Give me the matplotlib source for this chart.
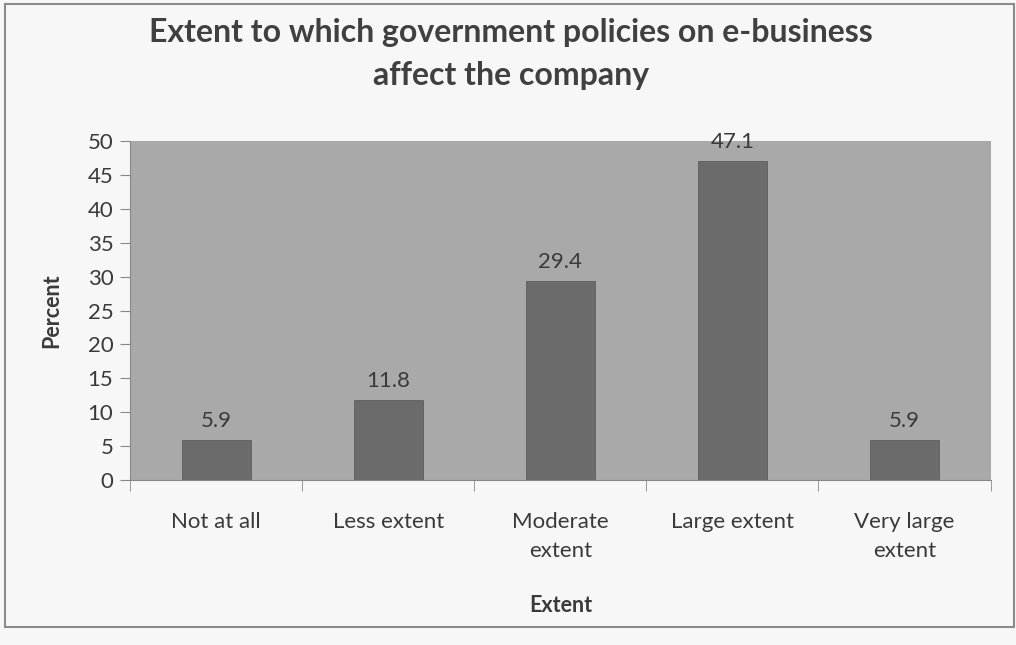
import matplotlib
matplotlib.use('Agg')
import matplotlib.pyplot as plt
import numpy as np
from matplotlib.patches import Rectangle

categories = ["Not at all", "Less extent", "Moderate\nextent", "Large extent", "Very large\nextent"]
percent = [5.9, 11.8, 29.4, 47.1, 5.9]
y_ticks = [0, 5, 10, 15, 20, 25, 30, 35, 40, 45, 50]

plt.rcParams['font.family'] = ['Lato', 'DejaVu Sans']
text_col = "#3a3a3a"

fig = plt.figure(figsize=(10.16, 6.45), dpi=100, facecolor="#f7f7f7")
ax = fig.add_axes([0.128, 0.256, 0.847, 0.525])
ax.set_facecolor("#a9a9a9")

x = np.arange(len(categories))
ax.bar(x, percent, width=0.4, color="#6b6b6b", edgecolor="#5e5e5e", linewidth=0.6, zorder=2)
for xi, v in zip(x, percent):
    ax.text(xi, v + 1.3, f"{v:.1f}", ha="center", va="bottom", fontsize=16, color=text_col)

ax.set_xlim(-0.5, len(categories) - 0.5)
ax.set_ylim(0, 50)
ax.set_yticks(y_ticks)
ax.set_xticks(x)
ax.set_xticklabels(categories, fontsize=16, color=text_col, linespacing=1.6)
ax.set_xticks(np.arange(-0.5, len(categories)), minor=True)
ax.tick_params(axis="x", which="major", length=0, pad=23)
ax.tick_params(axis="x", which="minor", length=8, color="#888888", direction="out")
ax.tick_params(axis="y", length=7, color="#888888", labelsize=16, labelcolor=text_col, pad=5)

for side in ("top", "right"):
    ax.spines[side].set_visible(False)
for side in ("left", "bottom"):
    ax.spines[side].set_color("#888888")

ax.set_ylabel("Percent", fontsize=15.5, fontweight="bold", color=text_col, labelpad=18)
ax.set_xlabel("Extent", fontsize=15.5, fontweight="bold", color=text_col, labelpad=24)

fig.text(0.503, 0.916, "Extent to which government policies on e-business\naffect the company",
         ha="center", va="center", fontsize=23, fontweight="bold", color="#404040", linespacing=1.6)

# thin frame around the whole chart area
fig.patches.append(Rectangle((0.005, 0.028), 0.993, 0.966, transform=fig.transFigure,
                             fill=False, edgecolor="#8a8a8a", linewidth=1.5))

fig.savefig("out.png", dpi=100, facecolor=fig.get_facecolor())
